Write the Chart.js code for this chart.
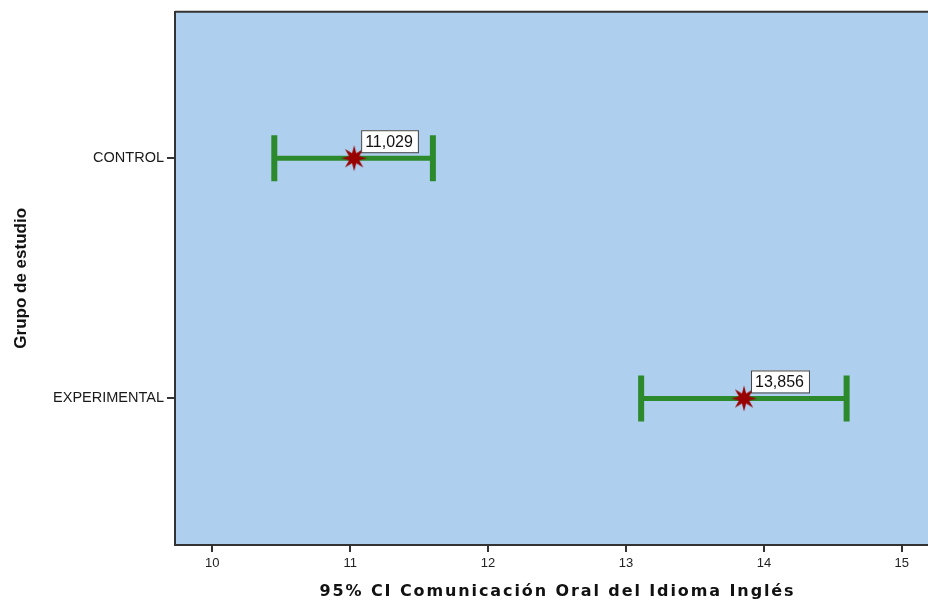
<!DOCTYPE html>
<html>
<head>
<meta charset="utf-8">
<script src="https://cdn.jsdelivr.net/npm/chart.js@4.4.0/dist/chart.umd.min.js"></script>
<style>
    html, body { margin: 0; padding: 0; background: #fff; }
    #wrap { width: 928px; height: 604px; }
</style>
</head>
<body>
<div id="wrap"><canvas id="ciChart"></canvas></div>
<script>
const groups = ['CONTROL', 'EXPERIMENTAL'];
const means = [11.029, 13.856];
const lower = [10.45, 13.11];
const upper = [11.60, 14.60];
const xTicks = [10, 11, 12, 13, 14, 15];

const green = '#2c8a2c';
const starRed = '#990000';

// filled 8-point star used as the point style for the means
function makeStar() {
    const c = document.createElement('canvas');
    c.width = 28;
    c.height = 28;
    const g = c.getContext('2d');
    g.beginPath();
    for (let k = 0; k < 16; k++) {
        const r = k % 2 === 0 ? 13 : 5.5;
        const a = -Math.PI / 2 + k * Math.PI / 8;
        const px = 14 + r * Math.cos(a);
        const py = 14 + r * Math.sin(a);
        if (k === 0) g.moveTo(px, py); else g.lineTo(px, py);
    }
    g.closePath();
    g.fillStyle = starRed;
    g.fill();
    return c;
}

const ciSets = groups.map((name, i) => ({
    type: 'line',
    label: name,
    order: 1,
    data: [{x: lower[i], y: i + 1}, {x: upper[i], y: i + 1}],
    borderColor: green,
    borderWidth: 5,
    pointStyle: 'line',
    rotation: 90,
    pointRadius: 23,
    pointBorderWidth: 6,
    pointBorderColor: green
}));

const meanSet = {
    type: 'scatter',
    label: 'Media',
    order: 0,
    data: means.map((m, i) => ({x: m, y: i + 1})),
    pointStyle: makeStar(),
    pointRadius: 13
};

const plotBackground = {
    id: 'plotBackground',
    beforeDraw(chart) {
        const {ctx, chartArea} = chart;
        ctx.save();
        ctx.fillStyle = '#aecfee';
        ctx.fillRect(chartArea.left, chartArea.top, chartArea.right - chartArea.left, chartArea.bottom - chartArea.top);
        ctx.restore();
    },
    afterDraw(chart) {
        const {ctx, chartArea} = chart;
        ctx.save();
        ctx.strokeStyle = '#333';
        ctx.lineWidth = 2;
        ctx.beginPath();
        ctx.moveTo(chartArea.left, chartArea.top);
        ctx.lineTo(chartArea.right, chartArea.top);
        ctx.stroke();
        ctx.restore();
    }
};

const meanLabels = {
    id: 'meanLabels',
    afterDatasetsDraw(chart) {
        const {ctx, scales} = chart;
        ctx.save();
        ctx.font = '16px "Liberation Sans", Arial, sans-serif';
        ctx.textBaseline = 'middle';
        means.forEach((m, i) => {
            const px = scales.x.getPixelForValue(m);
            const py = scales.y.getPixelForValue(i + 1);
            const text = m.toFixed(3).replace('.', ',');
            const w = ctx.measureText(text).width + 9;
            const h = 22;
            const left = px + 7;
            const top = py - 6 - h;
            ctx.fillStyle = '#fff';
            ctx.fillRect(left, top, w, h);
            ctx.strokeStyle = '#444';
            ctx.lineWidth = 1;
            ctx.strokeRect(left + 0.5, top + 0.5, w, h);
            ctx.fillStyle = '#111';
            ctx.fillText(text, left + 4, top + h / 2 + 1);
        });
        ctx.restore();
    }
};

const ctx = document.getElementById('ciChart').getContext('2d');
const ciChart = new Chart(ctx, {
    data: {datasets: [...ciSets, meanSet]},
    options: {
        responsive: true,
        maintainAspectRatio: false,
        animation: false,
        layout: {autoPadding: false, padding: {top: 11, left: 0, right: 0, bottom: 0}},
        plugins: {
            legend: {display: false},
            tooltip: {enabled: false}
        },
        scales: {
            x: {
                type: 'linear',
                position: 'bottom',
                min: 9.73,
                max: 15.19,
                bounds: 'data',
                afterBuildTicks: scale => {
                    scale.ticks = xTicks.map(v => ({value: v}));
                },
                afterFit: scale => {
                    scale.height = 59;
                },
                afterUpdate: scale => {
                    if (!scale._spaced) {
                        const orig = scale.drawTitle.bind(scale);
                        scale.drawTitle = function () {
                            scale.ctx.save();
                            scale.ctx.letterSpacing = '1.9px';
                            scale.ctx.translate(6, 0);
                            orig();
                            scale.ctx.restore();
                        };
                        scale._spaced = true;
                    }
                },
                grid: {drawOnChartArea: false, drawTicks: true, tickLength: 7, color: '#333', lineWidth: 2},
                border: {display: true, color: '#333', width: 2},
                ticks: {
                    padding: 4,
                    color: '#222',
                    font: {family: '"Liberation Sans", Arial, sans-serif', size: 13}
                },
                title: {
                    display: true,
                    text: '95% CI Comunicación Oral del Idioma Inglés',
                    color: '#111',
                    padding: {top: 0, bottom: 3},
                    font: {family: '"DejaVu Sans", sans-serif', size: 16, weight: 'bold'}
                }
            },
            y: {
                type: 'linear',
                position: 'left',
                reverse: true,
                min: 0.39,
                max: 2.61,
                bounds: 'data',
                afterBuildTicks: scale => {
                    scale.ticks = groups.map((g, i) => ({value: i + 1}));
                },
                afterFit: scale => {
                    scale.width = 175;
                },
                grid: {drawOnChartArea: false, drawTicks: true, tickLength: 8, color: '#333', lineWidth: 2},
                border: {display: true, color: '#333', width: 2},
                ticks: {
                    padding: 3,
                    color: '#1a1a1a',
                    font: {family: '"Liberation Sans", Arial, sans-serif', size: 14.5},
                    callback: value => groups[value - 1]
                },
                title: {
                    display: true,
                    text: 'Grupo de estudio',
                    color: '#111',
                    padding: {top: 11, bottom: 0},
                    font: {family: '"Liberation Sans", Arial, sans-serif', size: 17, weight: 'bold'}
                }
            }
        }
    },
    plugins: [plotBackground, meanLabels]
});
</script>
</body>
</html>
